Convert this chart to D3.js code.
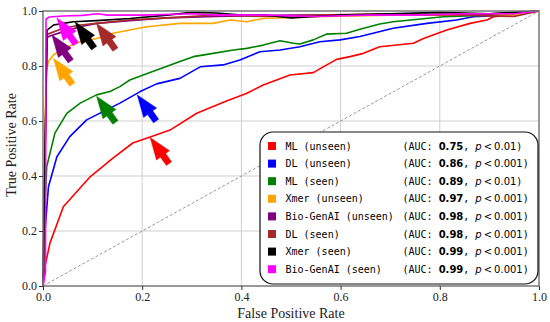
<!DOCTYPE html>
<html><head><meta charset="utf-8">
<script src="https://cdn.jsdelivr.net/npm/d3@7"></script>
<style>body{margin:0;background:#fff}svg{display:block}.serif{font-family:"Liberation Serif","Times New Roman","DejaVu Serif",serif}</style>
</head><body><svg id="c" width="550" height="322"></svg>
<script>
const seriesNames = ["ML (unseen)","DL (unseen)","ML (seen)","Xmer (unseen)","Bio-GenAI (unseen)","DL (seen)","Xmer (seen)","Bio-GenAI (seen)"];
const seriesColors = ["#ff0000","#0000ff","#008000","#ffa500","#800080","#a52a2a","#000000","#ff00ff"];
const aucValues = ["0.75","0.86","0.89","0.97","0.98","0.98","0.99","0.99"];
const pValues = ["0.01","0.001","0.01","0.001","0.001","0.001","0.001","0.001"];
const xTicks = [0,0.2,0.4,0.6,0.8,1.0];
const yTicks = [0,0.2,0.4,0.6,0.8,1.0];

const fprMLu = [0,0.005,0.014,0.041,0.095,0.141,0.181,0.216,0.256,0.31,0.37,0.41,0.444,0.498,0.545,0.565,0.592,0.619,0.646,0.679,0.747,0.767,0.814,0.861,0.895,0.908,0.95,1];
const tprMLu = [0,0.08,0.156,0.288,0.397,0.465,0.52,0.542,0.567,0.628,0.673,0.7,0.731,0.767,0.776,0.797,0.824,0.834,0.846,0.87,0.883,0.9,0.931,0.955,0.967,0.979,0.985,1];
const fprDLu = [0,0.004,0.011,0.028,0.054,0.088,0.121,0.155,0.196,0.229,0.276,0.317,0.363,0.397,0.4375,0.478,0.518,0.558,0.599,0.639,0.706,0.774,0.834,0.867,0.93,1];
const tprDLu = [0,0.2,0.361,0.47,0.543,0.604,0.634,0.665,0.707,0.735,0.755,0.797,0.804,0.822,0.852,0.858,0.87,0.888,0.895,0.907,0.937,0.955,0.967,0.979,0.985,1];
const fprMLs = [0,0.004,0.0075,0.024,0.048,0.075,0.108,0.135,0.155,0.175,0.202,0.276,0.303,0.343,0.384,0.411,0.444,0.478,0.505,0.518,0.545,0.572,0.612,0.639,0.679,0.706,0.807,0.9,1];
const tprMLs = [0,0.3,0.434,0.556,0.628,0.665,0.695,0.707,0.725,0.749,0.767,0.816,0.834,0.846,0.858,0.864,0.876,0.892,0.883,0.88,0.895,0.916,0.919,0.934,0.953,0.961,0.979,0.985,1];
const fprXu = [0,0.006,0.011,0.021,0.041,0.075,0.108,0.141,0.175,0.209,0.276,0.343,0.377,0.411,0.444,0.545,0.7,0.85,0.95,1];
const tprXu = [0,0.78,0.816,0.84,0.864,0.888,0.9,0.919,0.931,0.943,0.955,0.955,0.967,0.961,0.973,0.979,0.985,0.985,0.985,1];
const fprBu = [0,0.008,0.011,0.041,0.075,0.108,0.175,0.25,0.35,0.5,0.7,0.9,1];
const tprBu = [0,0.9,0.907,0.925,0.943,0.955,0.965,0.975,0.98,0.985,0.985,0.99,1];
const fprDLs = [0,0.008,0.041,0.075,0.108,0.175,0.25,0.35,0.45,0.55,0.7,0.85,0.95,1];
const tprDLs = [0,0.915,0.937,0.949,0.955,0.967,0.975,0.985,0.98,0.985,0.99,0.985,0.98,1];
const fprXs = [0,0.008,0.021,0.041,0.061,0.108,0.175,0.25,0.3,0.35,0.4,0.45,0.5,0.55,0.6,0.7,0.8,0.9,1];
const tprXs = [0,0.93,0.949,0.955,0.961,0.965,0.973,0.985,0.995,0.993,0.985,0.985,0.975,0.98,0.985,0.99,0.995,0.99,1];
const fprBs = [0,0.005,0.006,0.012,0.04,0.08,0.11,0.13,0.2,0.3,0.35,0.45,0.55,0.65,0.75,0.85,0.95,1];
const tprBs = [0,0.05,0.97,0.978,0.982,0.984,0.99,0.985,0.985,0.99,0.985,0.985,0.98,0.985,0.985,0.99,0.99,1];

const fprSeries = [fprMLu,fprDLu,fprMLs,fprXu,fprBu,fprDLs,fprXs,fprBs];
const tprSeries = [tprMLu,tprDLu,tprMLs,tprXu,tprBu,tprDLs,tprXs,tprBs];

// annotation target points (data coords)
const arrowX = [0.216,0.19,0.108,0.021,0.018,0.108,0.065,0.028];
const arrowY = [0.54,0.695,0.69,0.828,0.913,0.955,0.96,0.975];

const svg = d3.select("#c");
const m = {l:43, r:11, t:11, b:36};
const W = 550, H = 322;
const x = d3.scaleLinear().domain([0,1]).range([m.l, W-m.r]);
const y = d3.scaleLinear().domain([0,1]).range([H-m.b, m.t]);

// grid
const g = svg.append("g");
g.selectAll(".gx").data(xTicks.slice(1,-1)).enter().append("line")
  .attr("x1",d=>x(d)).attr("x2",d=>x(d)).attr("y1",y(0)).attr("y2",y(1))
  .attr("stroke","#cfcfcf").attr("stroke-width",1);
g.selectAll(".gy").data(yTicks.slice(1,-1)).enter().append("line")
  .attr("y1",d=>y(d)).attr("y2",d=>y(d)).attr("x1",x(0)).attr("x2",x(1))
  .attr("stroke","#cfcfcf").attr("stroke-width",1);

// diagonal
svg.append("line").attr("x1",x(0)).attr("y1",y(0)).attr("x2",x(1)).attr("y2",y(1))
  .attr("stroke","#999").attr("stroke-width",1).attr("stroke-dasharray","3,2");

// curves
const line = d3.line().x(d=>x(d[0])).y(d=>y(d[1]));
fprSeries.forEach((fx,i)=>{
  const pts = fx.map((v,j)=>[v,tprSeries[i][j]]);
  svg.append("path").attr("d",line(pts)).attr("fill","none")
    .attr("stroke",seriesColors[i]).attr("stroke-width",1.6).attr("stroke-linejoin","round");
});

// arrows
arrowX.forEach((ax,i)=>{
  const tx = x(ax), ty = y(arrowY[i]);
  const ex = x(ax+0.04), ey = y(arrowY[i]-0.1);
  let dx = ex-tx, dy = ey-ty; const L = Math.hypot(dx,dy); dx/=L; dy/=L;
  const nx = -dy, ny = dx;
  const len = L*0.95, hl = 22, hw = 8, sw = 3.2;
  const P = (a,b)=>[tx+dx*a+nx*b, ty+dy*a+ny*b];
  const poly = [P(0,0),P(hl,hw),P(hl,sw),P(len,sw),P(len,-sw),P(hl,-sw),P(hl,-hw)];
  svg.append("polygon").attr("points",poly.map(p=>p.join(",")).join(" "))
    .attr("fill",seriesColors[i]).attr("stroke",seriesColors[i]).attr("stroke-width",0.5);
});

// frame
svg.append("rect").attr("x",x(0)).attr("y",y(1)).attr("width",x(1)-x(0)).attr("height",y(0)-y(1))
  .attr("fill","none").attr("stroke","#777").attr("stroke-width",1.5);

// axes
const fmt = d3.format(".1f");
const xa = svg.append("g").attr("transform",`translate(0,${y(0)})`)
  .call(d3.axisBottom(x).tickValues(xTicks).tickFormat(fmt).tickSize(4).tickPadding(2));
const ya = svg.append("g").attr("transform",`translate(${x(0)},0)`)
  .call(d3.axisLeft(y).tickValues(yTicks).tickFormat(fmt).tickSize(4).tickPadding(2));
[xa,ya].forEach(a=>{
  a.attr("font-family",null).attr("font-size",null).attr("class","serif");
  a.select(".domain").remove();
  a.selectAll("line").attr("stroke","#333");
  a.selectAll("text").style("font-size","12px").attr("fill","#222");
});
svg.append("text").attr("class","serif").attr("x",(x(0)+x(1))/2).attr("y",318).attr("text-anchor","middle")
  .style("font-size","14px").attr("fill","#222").text("False Positive Rate");
svg.append("text").attr("class","serif").attr("transform",`translate(16,145) rotate(-90)`).attr("text-anchor","middle")
  .style("font-size","14px").attr("fill","#222").text("True Positive Rate");

// legend
const lg = svg.append("g");
lg.append("rect").attr("x",260).attr("y",132).attr("width",278).attr("height",152).attr("rx",13)
  .attr("fill","#fff").attr("stroke","#111").attr("stroke-width",1.2);
seriesNames.forEach((nm,i)=>{
  const cy = 146 + i*17.6;
  lg.append("rect").attr("x",268).attr("y",cy-4).attr("width",8).attr("height",8).attr("fill",seriesColors[i]);
  lg.append("text").attr("x",285.5).attr("y",cy+3.5).attr("font-family","DejaVu Sans Mono").attr("font-size",10).text(nm);
  const t = lg.append("text").attr("x",402.5).attr("y",cy+3.5).attr("font-size",10);
  t.append("tspan").attr("font-family","DejaVu Sans Mono").text("(AUC: ");
  t.append("tspan").attr("font-family","DejaVu Sans").attr("font-weight","bold").text(aucValues[i]);
  t.append("tspan").attr("font-family","DejaVu Sans Mono").text(", ");
  t.append("tspan").attr("font-family","DejaVu Sans").attr("font-style","italic").text("p");
  t.append("tspan").attr("font-family","DejaVu Sans").text("\u2009<\u20090." + pValues[i].slice(2));
  t.append("tspan").attr("font-family","DejaVu Sans Mono").text(")");
});
</script></body></html>
